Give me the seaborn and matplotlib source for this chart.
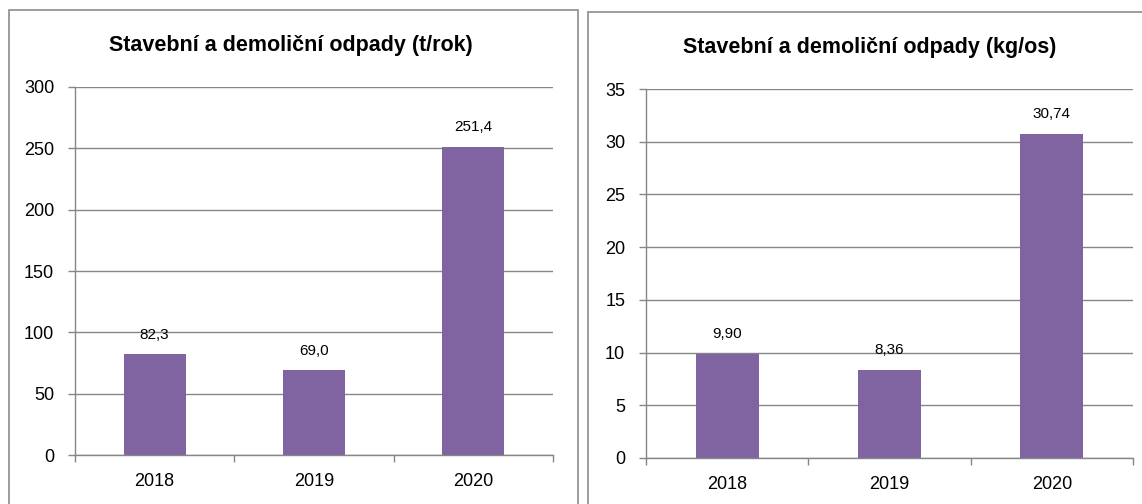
import matplotlib
matplotlib.use("Agg")
import matplotlib.pyplot as plt
import seaborn as sns
import pandas as pd
from matplotlib.patches import Rectangle
from matplotlib.ticker import FixedLocator

years = ["2018", "2019", "2020"]
tons = [82.3, 69.0, 251.4]
tons_labels = ["82,3", "69,0", "251,4"]
per_person = [9.90, 8.36, 30.74]
per_person_labels = ["9,90", "8,36", "30,74"]
title_left = "Stavební a demoliční odpady (t/rok)"
title_right = "Stavební a demoliční odpady (kg/os)"

sns.set_theme(style="white")
plt.rcParams["font.family"] = ["Liberation Sans", "DejaVu Sans"]

BAR = "#8064A2"
GRID = "#868686"

fig = plt.figure(figsize=(11.42, 5.04), dpi=100)
fig.patch.set_facecolor("white")

# panel frames
fig.add_artist(Rectangle((9/1142, -0.01), (578-9)/1142, (504-10)/504 + 0.01,
                         transform=fig.transFigure, fill=False, edgecolor="#8c8c8c", lw=1.2))
fig.add_artist(Rectangle((588/1142, -0.01), (1142-588)/1142 + 0.01, (504-12)/504 + 0.01,
                         transform=fig.transFigure, fill=False, edgecolor="#8c8c8c", lw=1.2))

ax1 = fig.add_axes([75/1142, 49/504, (553-75)/1142, (455-87)/504])
ax2 = fig.add_axes([646/1142, 46/504, (1133-646)/1142, (458-89)/504])

def draw(ax, vals, labels, ymax, step, title, title_x, title_y):
    df = pd.DataFrame({"year": years, "val": vals})
    sns.barplot(data=df, x="year", y="val", color=BAR, width=0.39, ax=ax,
                saturation=1, edgecolor="none")
    ax.set_xlim(-0.5, 2.5)
    ax.set_ylim(0, ymax)
    ax.set_yticks(list(range(0, ymax + 1, step)))
    ax.yaxis.grid(True, color=GRID, lw=1)
    ax.set_axisbelow(True)
    for s in ["top", "right"]:
        ax.spines[s].set_visible(False)
    for s in ["left", "bottom"]:
        ax.spines[s].set_color(GRID)
        ax.spines[s].set_linewidth(1)
    ax.xaxis.set_minor_locator(FixedLocator([-0.5, 0.5, 1.5, 2.5]))
    ax.tick_params(axis="x", which="major", length=0, pad=13, labelsize=13, colors="black")
    ax.tick_params(axis="x", which="minor", bottom=True, length=5, width=1, color=GRID, direction="out")
    ax.tick_params(axis="y", left=True, length=5, width=1, color=GRID, direction="out",
                   pad=10, labelsize=13, labelcolor="black")
    ax.set_xlabel("")
    ax.set_ylabel("")
    ax.bar_label(ax.containers[0], labels=labels, padding=9, fontsize=11, color="black")
    fig.text(title_x, title_y, title, ha="center", va="center", fontsize=15.5,
             fontweight="bold", color="black")

draw(ax1, tons, tons_labels, 300, 50, title_left, 291/1142, 1 - 46/504)
draw(ax2, per_person, per_person_labels, 35, 5, title_right, 870/1142, 1 - 48/504)

fig.savefig("out.png", dpi=100)
